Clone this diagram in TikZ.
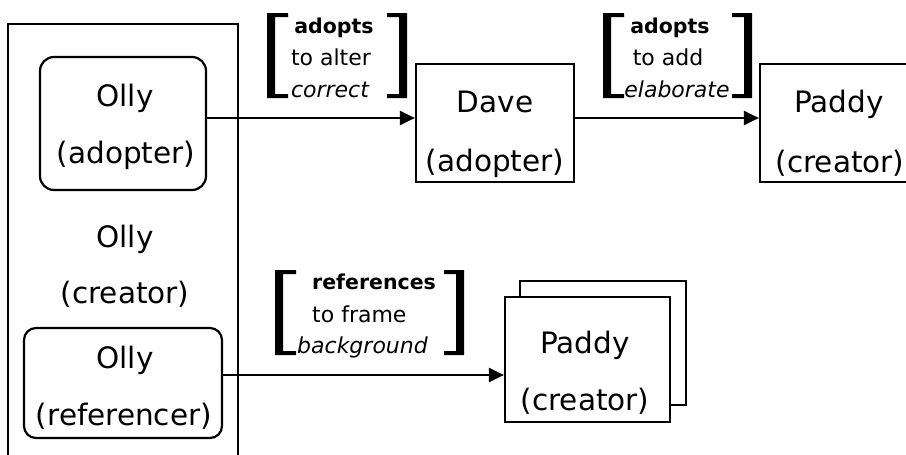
\documentclass[tikz,border=0pt]{standalone}
\usepackage{fontspec}
\setmainfont{DejaVu Sans}
\usetikzlibrary{arrows.meta}
\newcommand{\lbrk}[3]{% x-left, y-top, y-bottom
  \fill (#1,#2) -- ++(21,0) -- ++(0,4) -- ++(-13,0) -- (#1+8,#3-4) -- ++(13,0) -- ++(0,4) -- (#1,#3) -- cycle;}
\newcommand{\rbrk}[3]{% x-right, y-top, y-bottom
  \fill (#1,#2) -- ++(-20,0) -- ++(0,4) -- ++(12,0) -- (#1-8,#3-4) -- ++(-12,0) -- ++(0,4) -- (#1,#3) -- cycle;}
\begin{document}
\begin{tikzpicture}[x=1pt,y=-1pt,
  boxline/.style={draw, line width=2.2pt},
  plainbox/.style={boxline, rectangle, inner sep=0pt},
  roundbox/.style={boxline, rectangle, rounded corners=14pt, inner sep=0pt},
  maintext/.style={anchor=base, inner sep=0pt, font=\fontsize{29.5}{34}\selectfont},
  brtext/.style={anchor=base, inner sep=0pt, font=\fontsize{22}{25}\selectfont},
  brbold/.style={anchor=base, inner sep=0pt, font=\fontsize{20.5}{24}\selectfont\bfseries},
  brital/.style={anchor=base, inner sep=0pt, font=\fontsize{22}{25}\selectfont\itshape},
  conn/.style={line width=2.2pt, -{Triangle[length=15pt,width=14pt]}}]
\useasboundingbox (0,0) rectangle (906,455);
\clip (0,0) rectangle (906,455);
\fill[white] (0,0) rectangle (906,455);

% outer Olly frame
\node[plainbox, minimum width=230pt, minimum height=460pt] (frame) at (123,254) {};

% boxes
\node[roundbox, minimum width=166pt, minimum height=133pt] (ollyA) at (123,123.5) {};
\node[roundbox, rounded corners=12pt, minimum width=198pt, minimum height=110pt] (ollyR) at (123,383) {};
\node[plainbox, fill=white, minimum width=158pt, minimum height=118pt] (dave) at (495,123) {};
\node[plainbox, fill=white, minimum width=170pt, minimum height=118pt] (paddyA) at (845,123) {};
\node[plainbox, fill=white, minimum width=166pt, minimum height=124pt] (paddyBback) at (603,343) {};
\node[plainbox, fill=white, minimum width=165pt, minimum height=125pt] (paddyB) at (587.5,359.5) {};

% texts in boxes
\node[maintext] (tA1) at (125,106) {Olly};
\node[maintext] (tA2) at (126,163) {(adopter)};
\node[maintext] (tC1) at (125,247) {Olly};
\node[maintext] (tC2) at (125,303) {(creator)};
\node[maintext] (tR1) at (125,368) {Olly};
\node[maintext] (tR2) at (124,425) {(referencer)};
\node[maintext] (tD1) at (495,112) {Dave};
\node[maintext] (tD2) at (495,171) {(adopter)};
\node[maintext] (tP1) at (839,112) {Paddy};
\node[maintext] (tP2) at (840,172) {(creator)};
\node[maintext] (tQ1) at (585,353) {Paddy};
\node[maintext] (tQ2) at (585,410) {(creator)};

% connectors
\draw[conn] (ollyA.east |- 0,118) -- (dave.west |- 0,118);
\draw[conn] (dave.east |- 0,118) -- (paddyA.west |- 0,118);
\draw[conn] (ollyR.east |- 0,375) -- (paddyB.west |- 0,375);

% bracket labels
\lbrk{267}{13}{98}
\rbrk{407}{13}{98}
\node[brbold] (l1a) at (334,33) {adopts};
\node[brtext] (l1b) at (331,65) {to alter};
\node[brital] (l1c) at (330,97) {correct};

\lbrk{603}{13}{98}
\rbrk{752}{13}{98}
\node[brbold] (l2a) at (670,33) {adopts};
\node[brtext] (l2b) at (668,65) {to add};
\node[brital] (l2c) at (677,97) {elaborate};

\lbrk{275}{270}{355}
\rbrk{464}{270}{355}
\node[brbold, anchor=base west] (l3a) at (312,289) {references};
\node[brtext, anchor=base west] (l3b) at (312,322) {to frame};
\node[brital, anchor=base west] (l3c) at (297,353) {background};
\end{tikzpicture}
\end{document}
